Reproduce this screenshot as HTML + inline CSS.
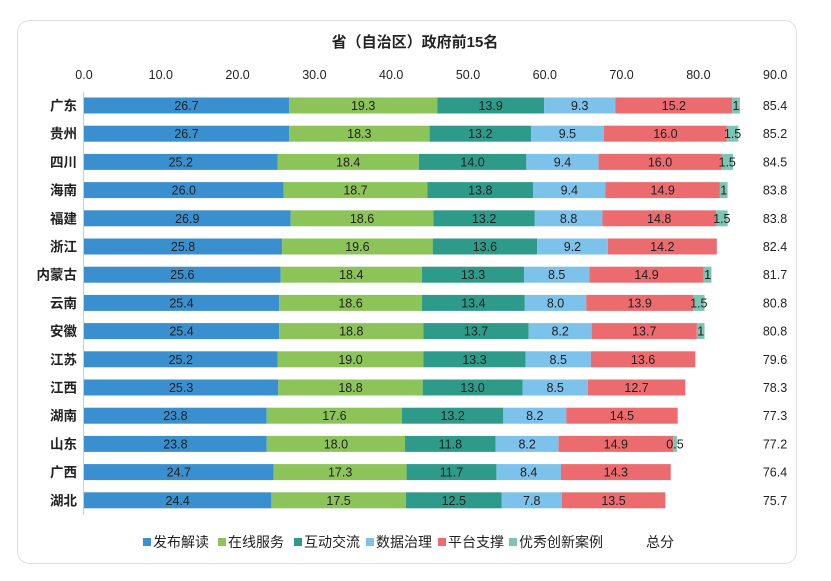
<!DOCTYPE html>
<html><head><meta charset="utf-8"><style>
body{margin:0;background:#fff;width:831px;height:581px;overflow:hidden}
svg{position:absolute;left:0;top:0}
text{font-family:"Liberation Sans","Noto Sans CJK SC",sans-serif}
</style></head><body>
<svg id="s" width="831" height="581" xmlns="http://www.w3.org/2000/svg">
<rect x="17.5" y="20.5" width="779" height="543" rx="12" fill="#fff" stroke="#dde1e3"/>
<text x="415" y="47" text-anchor="middle" font-size="15" font-weight="bold" fill="#222">省（自治区）政府前15名</text>
<line x1="83.5" y1="92" x2="83.5" y2="515" stroke="#ccc"/>
</svg>
<script>
const s=document.getElementById('s'),NS='http://www.w3.org/2000/svg';
function el(t,a,txt){const e=document.createElementNS(NS,t);for(const k in a)e.setAttribute(k,a[k]);if(txt!=null)e.textContent=txt;s.appendChild(e);return e;}
const k=7.68,x0=84;
for(let i=0;i<=9;i++)el('text',{x:x0+i*10*k,y:79,'text-anchor':'middle','font-size':12.5,fill:'#222'},(i*10).toFixed(1));
const cols=['#3a8fcf','#8cc45a','#2e9b8a','#7cc2ea','#ec6b6f','#7cc4b4'];
const d=[['广东',26.7,19.3,13.9,9.3,15.2,1,'85.4','1'],['贵州',26.7,18.3,13.2,9.5,16.0,1.5,'85.2'],['四川',25.2,18.4,14.0,9.4,16.0,1.5,'84.5'],['海南',26.0,18.7,13.8,9.4,14.9,1,'83.8','1'],['福建',26.9,18.6,13.2,8.8,14.8,1.5,'83.8'],['浙江',25.8,19.6,13.6,9.2,14.2,0,'82.4'],['内蒙古',25.6,18.4,13.3,8.5,14.9,1,'81.7','1'],['云南',25.4,18.6,13.4,8.0,13.9,1.5,'80.8'],['安徽',25.4,18.8,13.7,8.2,13.7,1,'80.8','1'],['江苏',25.2,19.0,13.3,8.5,13.6,0,'79.6'],['江西',25.3,18.8,13.0,8.5,12.7,0,'78.3'],['湖南',23.8,17.6,13.2,8.2,14.5,0,'77.3'],['山东',23.8,18.0,11.8,8.2,14.9,0.5,'77.2'],['广西',24.7,17.3,11.7,8.4,14.3,0,'76.4'],['湖北',24.4,17.5,12.5,7.8,13.5,0,'75.7']];
d.forEach((r,i)=>{const cy=105.5+i*28.2;let x=x0;
el('text',{x:77,y:cy+5,'text-anchor':'end','font-size':13.5,'font-weight':'bold',fill:'#222'},r[0]);
for(let j=0;j<6;j++){const v=r[j+1];if(!v)continue;const w=v*k;
el('rect',{x:x,y:cy-8,width:w,height:16,fill:cols[j]});
const lab=j==5?(r[8]||v.toFixed(1)):v.toFixed(1);
el('text',{x:x+w/2,y:cy+4.5,'text-anchor':'middle','font-size':12.5,fill:'#222'},lab);
x+=w;}
el('text',{x:775,y:cy+4.5,'text-anchor':'middle','font-size':12.5,fill:'#222'},r[7]);});
const L=[['发布解读',143],['在线服务',218],['互动交流',294],['数据治理',366],['平台支撑',438],['优秀创新案例',509]];
L.forEach((l,i)=>{el('rect',{x:l[1],y:538,width:8,height:8,fill:cols[i]});el('text',{x:l[1]+10,y:547,'font-size':14,fill:'#222'},l[0]);});
el('text',{x:646,y:547,'font-size':14,fill:'#222'},'总分');
</script>
</body></html>
